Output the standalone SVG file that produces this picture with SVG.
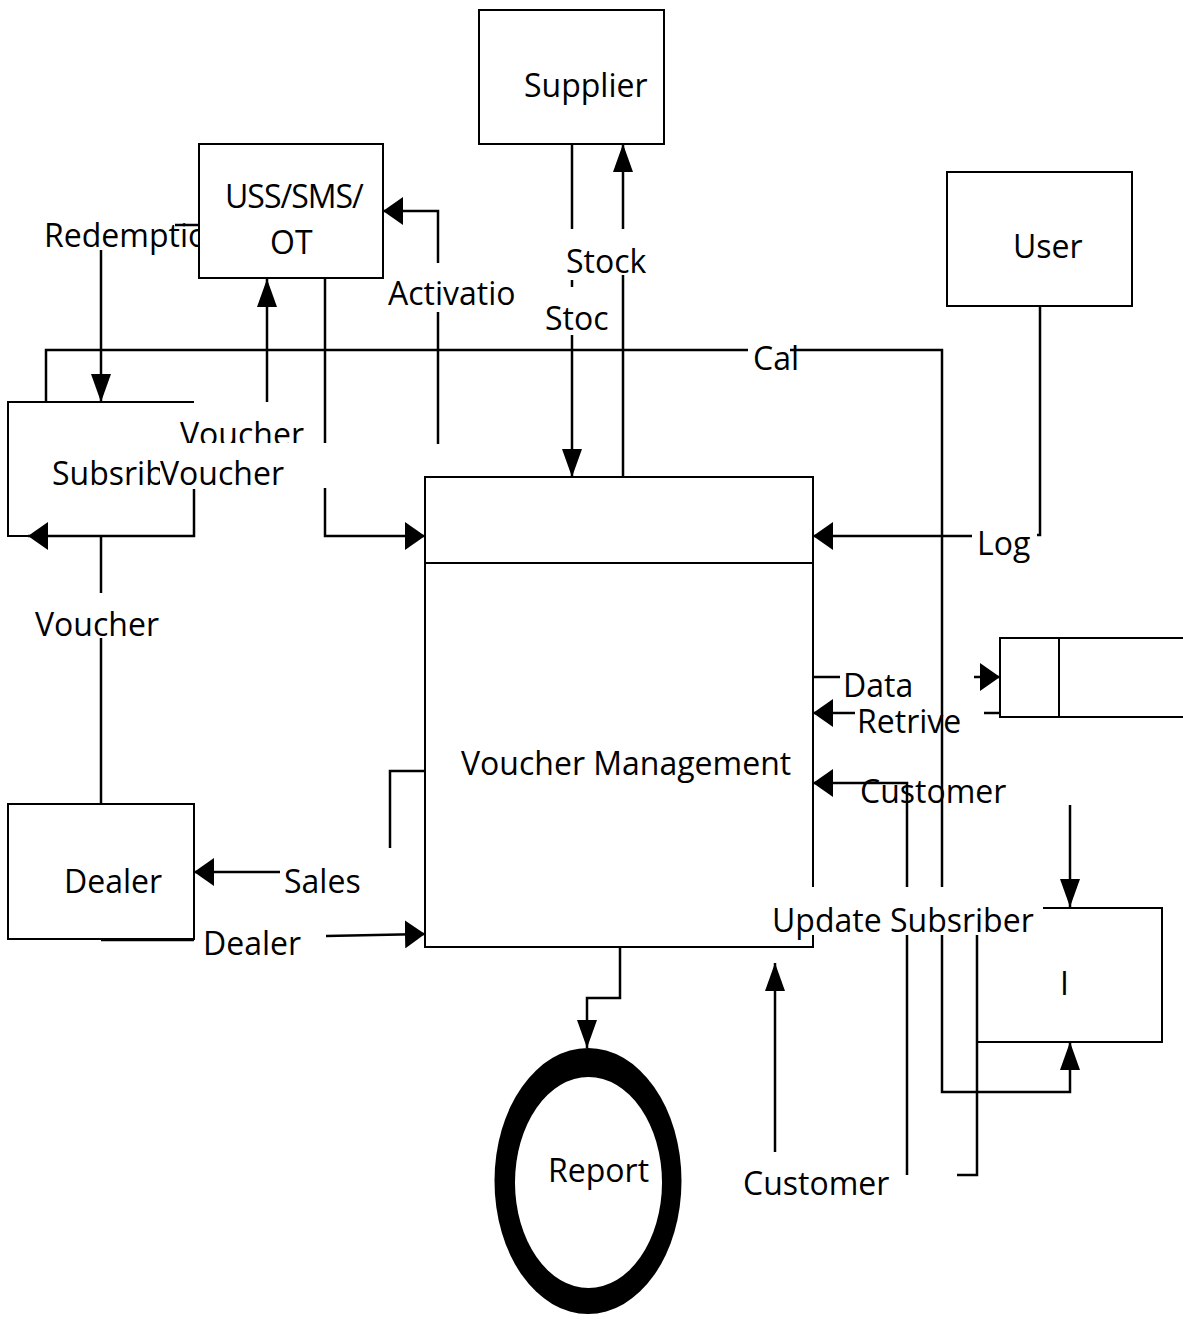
<svg xmlns="http://www.w3.org/2000/svg" width="1183" height="1320" viewBox="0 0 1183 1320">
<style>
text{font-family:"Open Sans","Noto Sans","Liberation Sans",sans-serif;font-size:32px;fill:#000}
.ln{fill:none;stroke:#000;stroke-width:2.5}
.bx{fill:#fff;stroke:#000;stroke-width:2}
.bo{fill:none;stroke:#000;stroke-width:2}
.h{marker-end:url(#ah)}
.v{marker-end:url(#av)}
</style>
<defs>
<marker id="ah" markerUnits="userSpaceOnUse" markerWidth="20" markerHeight="28" refX="20" refY="14" orient="auto" viewBox="0 0 20 28"><path d="M0,0 L20,14 L0,28 z" fill="#000"/></marker>
<marker id="av" markerUnits="userSpaceOnUse" markerWidth="28" markerHeight="20" refX="28" refY="10" orient="auto" viewBox="0 0 28 20"><path d="M0,0 L28,10 L0,20 z" fill="#000"/></marker>
<clipPath id="cSub"><rect x="0" y="440" width="160" height="60"/></clipPath>
<clipPath id="cVou"><rect x="170" y="400" width="160" height="43"/></clipPath>
</defs>
<rect width="1183" height="1320" fill="#fff"/>
<g id="connectors">
<path class="ln v" d="M572,144 V229 M572,280 V287 M572,335 V477"/>
<path class="ln v" d="M623,477 V275 M623,229 V144"/>
<path class="ln" d="M199,225 H175"/>
<path class="ln v" d="M101,250 V402"/>
<path class="ln v" d="M267,402 V279"/>
<path class="ln h" d="M325,278 V443 M325,488 V536 H425"/>
<path class="ln h" d="M438,444 V312 M438,263 V211 H383"/>
<path class="ln v" d="M46,402 V350 H748 M790,350 H942 V887 M942,935 V1092 H1070 V1042"/>
<path class="ln h" d="M194,489 V536 H28"/>
<path class="ln" d="M101,536 V593 M101,638 V804"/>
<path class="ln h" d="M425,771 H390 V848 M280,872 H194"/>
<path class="ln" d="M101,940 H194"/>
<path class="ln h" d="M326,936 L425,934"/>
<path class="ln" d="M1040,306 V535 H1037"/>
<path class="ln h" d="M972,536 H813"/>
<path class="ln" d="M813,677 H840"/>
<path class="ln h" d="M974,677 H1000"/>
<path class="ln" d="M1000,713 H984"/>
<path class="ln h" d="M855,713 H813"/>
<path class="ln h" d="M907,1175 V935 M907,887 V783 H813"/>
<path class="ln v" d="M1070,805 V907"/>
<path class="ln" d="M957,1175 H977 V935"/>
<path class="ln v" d="M775,1152 V963"/>
<path class="ln v" d="M620,947 V998 H587 V1048"/>
<text x="44" y="247">Redemptio</text>
<text x="566" y="273">Stock</text>
<text x="545" y="330">Stoc</text>
<text x="388" y="305">Activatio</text>
<text x="753" y="370">Cal</text>
<text x="180" y="446" clip-path="url(#cVou)">Voucher</text>
<text x="160" y="485">Voucher</text>
<text x="35" y="636">Voucher</text>
<text x="284" y="893">Sales</text>
<text x="203" y="955">Dealer</text>
<text x="977" y="555">Log</text>
<text x="843" y="697">Data</text>
<text x="857" y="733">Retrive</text>
<text x="860" y="803">Customer</text>
<text x="772" y="932">Update Subsriber</text>
<text x="743" y="1195">Customer</text>
</g>
<g id="supplier"><rect class="bx" x="479" y="10" width="185" height="134"/><text x="524" y="97">Supplier</text></g>
<g id="uss"><rect class="bx" x="199" y="144" width="184" height="134"/><text x="225" y="208" letter-spacing="-1">USS/SMS/</text><text x="270" y="254">OT</text></g>
<g id="user"><rect class="bx" x="947" y="172" width="185" height="134"/><text x="1013" y="258">User</text></g>
<g id="subscriber"><path class="bo" d="M194,402 H8 V536 H194"/><text x="52" y="485" clip-path="url(#cSub)">Subsrib</text></g>
<g id="dealer"><rect class="bo" x="8" y="804" width="186" height="135"/><text x="64" y="893">Dealer</text></g>
<g id="voucher-management"><path class="bo" d="M813,887 V477 H425 V947 H813 V935 M425,563 H813"/><text x="461" y="775">Voucher Management</text></g>
<g id="datastore"><path class="bo" d="M1183,638 H1000 V717 H1183 M1059,638 V717"/></g>
<g id="i-box"><path class="bo" d="M1043,908 H1162 V1042 H977"/><text x="1060" y="995">I</text></g>
<g id="report"><ellipse cx="588" cy="1181" rx="93.5" ry="133" fill="#000"/><ellipse cx="588.5" cy="1182.5" rx="73.5" ry="105.5" fill="#fff"/><text x="548" y="1182">Report</text></g>
</svg>
